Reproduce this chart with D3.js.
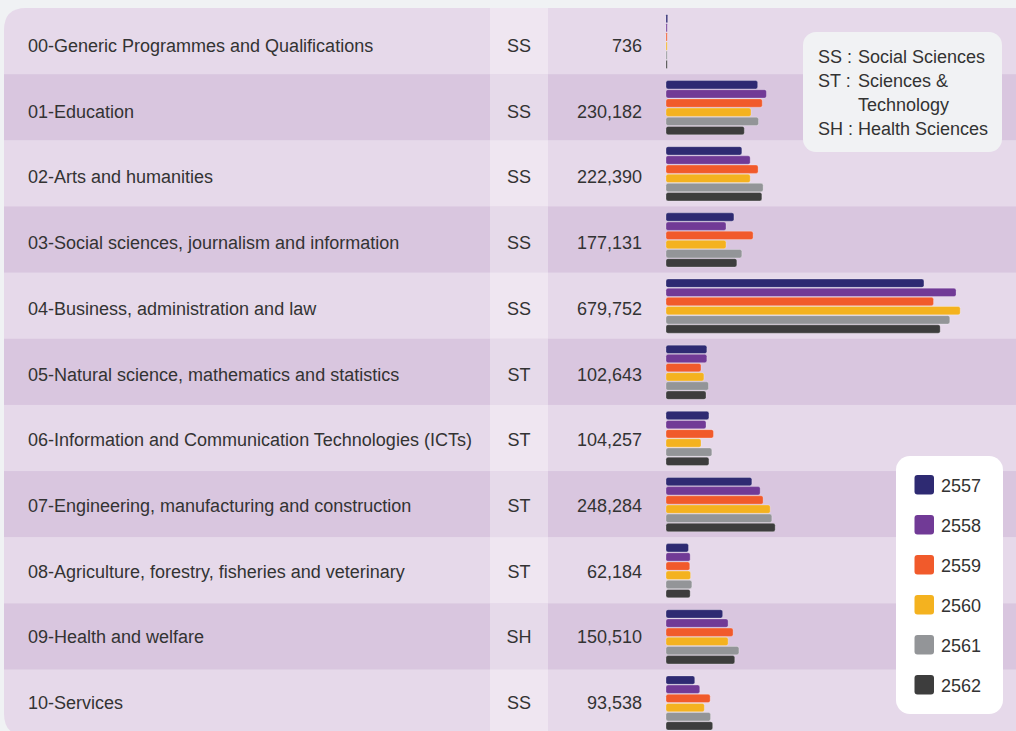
<!DOCTYPE html>
<html>
<head>
<meta charset="utf-8">
<script src="https://cdn.jsdelivr.net/npm/d3@7/dist/d3.min.js"></script>
<style>
html,body{margin:0;padding:0;background:#f0f2f4;}
svg{display:block;}
text{font-family:"Liberation Sans",Arial,sans-serif;fill:#333;}
</style>
</head>
<body>
<svg id="chart" width="1016" height="731"></svg>
<script>
const categories = [
  "00-Generic Programmes and Qualifications",
  "01-Education",
  "02-Arts and humanities",
  "03-Social sciences, journalism and information",
  "04-Business, administration and law",
  "05-Natural science, mathematics and statistics",
  "06-Information and Communication Technologies (ICTs)",
  "07-Engineering, manufacturing and construction",
  "08-Agriculture, forestry, fisheries and veterinary",
  "09-Health and welfare",
  "10-Services"
];
const groups = ["SS","SS","SS","SS","SS","ST","ST","ST","ST","SH","SS"];
const totals = ["736","230,182","222,390","177,131","679,752","102,643","104,257","248,284","62,184","150,510","93,538"];
const years = ["2557","2558","2559","2560","2561","2562"];
const v2557 = [4000, 220000, 182000, 163000, 619000, 98000, 103000, 206000, 54000, 136000, 69000];
const v2558 = [3000, 241000, 202000, 144000, 696000, 98000, 96000, 226000, 58000, 149000, 81000];
const v2559 = [2500, 231000, 221000, 209000, 642000, 84000, 114000, 233000, 57000, 161000, 106000];
const v2560 = [2500, 204000, 202000, 144000, 706000, 91000, 84000, 250000, 59000, 149000, 92000];
const v2561 = [2500, 222000, 233000, 182000, 681000, 102000, 110000, 254000, 62000, 175000, 107000];
const v2562 = [3000, 188000, 230000, 170000, 658000, 96000, 103000, 262000, 58000, 165000, 112000];
const colors = ["#2e2a72","#713a96","#f15a2b","#f4b21f","#939598","#3d3d3d"];
const groupNotes = [["SS :","Social Sciences"],["ST :","Sciences &"],["","Technology"],["SH :","Health Sciences"]];

const series = [v2557, v2558, v2559, v2560, v2561, v2562];
const svg = d3.select("#chart");
const FS = 18;

const panelTop = 8, rowH = 66.15, panelLeft = 4;
const yRow = d3.scaleBand().domain(d3.range(categories.length))
  .range([panelTop, panelTop + rowH * categories.length]).padding(0);
const yText = d3.scalePoint().domain(d3.range(categories.length)).range([52, 52 + 65.7 * (categories.length - 1)]);
const x = d3.scaleLinear().domain([0, 700000]).range([666, 666 + 291.7]);
const yBar = d3.scaleBand().domain(years).range([6, 61]).padding(0);

const defs = svg.append("defs");
const panelBottom = panelTop + rowH * categories.length;
const r = 22;
defs.append("clipPath").attr("id","panelClip").append("path")
  .attr("d", `M${panelLeft+r},${panelTop} H1100 V${panelBottom} H${panelLeft+r} Q${panelLeft},${panelBottom} ${panelLeft},${panelBottom-r} V${panelTop+r} Q${panelLeft},${panelTop} ${panelLeft+r},${panelTop} Z`);

const panel = svg.append("g").attr("clip-path","url(#panelClip)");

const rows = panel.selectAll("g.row").data(categories).join("g")
  .attr("class","row")
  .attr("transform",(d,i)=>`translate(0,${yRow(i)})`);

rows.append("rect").attr("x",0).attr("y",0).attr("width",1016).attr("height",yRow.bandwidth()+0.5)
  .attr("fill",(d,i)=> i%2===0 ? "#e6d9ea" : "#d9c6df");
rows.append("rect").attr("x",490).attr("y",0).attr("width",58).attr("height",yRow.bandwidth()+0.5)
  .attr("fill","#ffffff").attr("fill-opacity",0.35);

rows.each(function(d,i){
  const g = d3.select(this);
  years.forEach((yr,k)=>{
    const w = x(series[k][i]) - x(0);
    g.append("rect")
      .attr("x", x(0)).attr("y", yBar(yr)+0.4)
      .attr("width", Math.max(w,1.2)).attr("height", yBar.bandwidth()-0.8)
      .attr("rx", Math.min(2, w/2)).attr("fill", colors[k])
      .attr("stroke","#ffffff").attr("stroke-opacity",0.35).attr("stroke-width",0.8);
  });
});

const labels = panel.append("g");
labels.selectAll("text.cat").data(categories).join("text").attr("class","cat")
  .attr("x",28).attr("y",(d,i)=>yText(i)).attr("font-size",FS).text(d=>d);
labels.selectAll("text.grp").data(groups).join("text").attr("class","grp")
  .attr("x",519).attr("y",(d,i)=>yText(i)).attr("font-size",FS).attr("text-anchor","middle").text(d=>d);
labels.selectAll("text.tot").data(totals).join("text").attr("class","tot")
  .attr("x",642).attr("y",(d,i)=>yText(i)).attr("font-size",FS).attr("text-anchor","end").text(d=>d);

const lg1 = svg.append("g");
lg1.append("rect").attr("x",803).attr("y",32).attr("width",199).attr("height",120).attr("rx",13).attr("fill","#f1f2f4");
groupNotes.forEach((n,i)=>{
  lg1.append("text").attr("x",818).attr("y",62.5+i*24).attr("font-size",FS).text(n[0]);
  lg1.append("text").attr("x",858).attr("y",62.5+i*24).attr("font-size",FS).text(n[1]);
});

const lg2 = svg.append("g");
lg2.append("rect").attr("x",896).attr("y",456).attr("width",107).attr("height",258).attr("rx",14).attr("fill","#ffffff");
const yLeg = d3.scalePoint().domain(years).range([485,685]);
years.forEach((yr,k)=>{
  lg2.append("rect").attr("x",914.5).attr("y",yLeg(yr)-10).attr("width",19.5).attr("height",19.5).attr("rx",3).attr("fill",colors[k]);
  lg2.append("text").attr("x",941).attr("y",yLeg(yr)+6.5).attr("font-size",FS).text(yr);
});
</script>
</body>
</html>
